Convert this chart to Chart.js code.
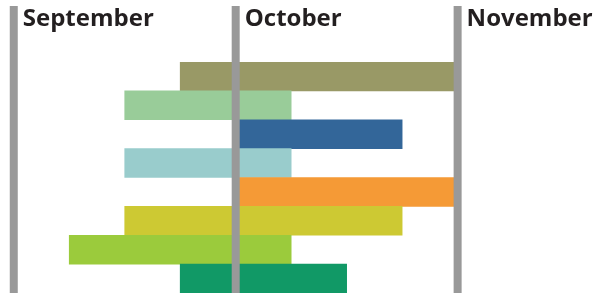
<!DOCTYPE html>
<html>
<head>
<meta charset="utf-8">
<script src="https://cdn.jsdelivr.net/npm/chart.js@4/dist/chart.umd.min.js"></script>
<style>
  html, body { margin: 0; padding: 0; background: #fff; }
  #wrap { position: relative; width: 595px; height: 293px; }
</style>
</head>
<body>
<div id="wrap"><canvas id="gantt"></canvas></div>
<script>
// Month markers (position in months from start of September)
const months = ['September', 'October', 'November'];
const monthPos = [0, 1, 2];

// Tasks: start / end in months
const tasks = ['Task 1', 'Task 2', 'Task 3', 'Task 4', 'Task 5', 'Task 6', 'Task 7', 'Task 8'];
const startVals = [0.75, 0.5, 1, 0.5, 1, 0.5, 0.25, 0.75];
const endVals = [2, 1.25, 1.75, 1.25, 2, 1.75, 1.25, 1.5];
const barColors = ['#999966', '#99cc99', '#336699', '#99cccc', '#f59a36', '#cdc933', '#9bcb3c', '#119966'];

// month lines + labels drawn over the bars
const monthLines = {
  id: 'monthLines',
  afterDatasetsDraw(chart) {
    const ctx = chart.ctx;
    const x = chart.scales.x;
    ctx.save();
    months.forEach((m, i) => {
      const px = x.getPixelForValue(monthPos[i]);
      ctx.fillStyle = '#999999';
      ctx.fillRect(px - 4, 6, 8, chart.height - 6);
      ctx.fillStyle = '#231f20';
      ctx.font = 'bold 24px "Open Sans"';
      ctx.textBaseline = 'alphabetic';
      ctx.fillText(m, px + 9, 26);
    });
    ctx.restore();
  }
};

new Chart(document.getElementById('gantt'), {
  type: 'bar',
  data: {
    labels: tasks,
    datasets: [{
      data: tasks.map((t, i) => [startVals[i], endVals[i]]),
      backgroundColor: barColors,
      borderWidth: 0,
      barPercentage: 1,
      categoryPercentage: 1
    }]
  },
  options: {
    indexAxis: 'y',
    responsive: true,
    maintainAspectRatio: false,
    animation: false,
    layout: { padding: { top: 62, left: 0, right: 0, bottom: 0 } },
    plugins: {
      legend: { display: false },
      tooltip: { enabled: false }
    },
    scales: {
      x: { display: false, min: -0.062, max: 2.619 },
      y: { display: false }
    }
  },
  plugins: [monthLines]
});
</script>
</body>
</html>
